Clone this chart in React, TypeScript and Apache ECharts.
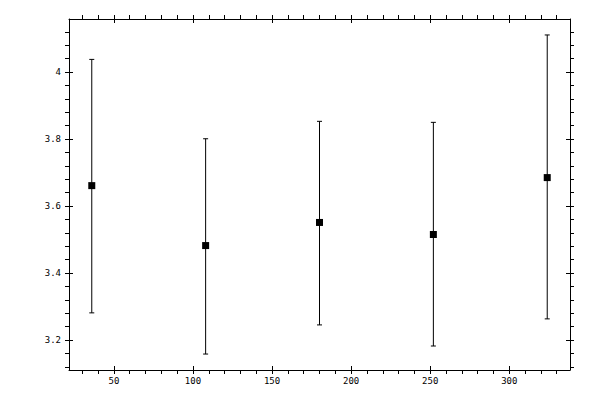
import React, { useEffect, useRef } from 'react';
import * as echarts from 'echarts';

// group positions and the mean with its error bar ends
const xValues = [36, 108, 180, 252, 324];
const means = [3.661, 3.482, 3.551, 3.515, 3.685];
const upper = [4.038, 3.801, 3.853, 3.85, 4.111];
const lower = [3.281, 3.158, 3.245, 3.182, 3.263];

// tick positions
const xMajor = [50, 100, 150, 200, 250, 300];
const xMinor = [30, 40, 60, 70, 80, 90, 110, 120, 130, 140, 160, 170, 180, 190, 210, 220, 230, 240, 260, 270, 280, 290, 310, 320, 330];
const yMajor = [3.2, 3.4, 3.6, 3.8, 4.0];
const yMinor = [3.12, 3.16, 3.24, 3.28, 3.32, 3.36, 3.44, 3.48, 3.52, 3.56, 3.64, 3.68, 3.72, 3.76, 3.84, 3.88, 3.92, 3.96, 4.04, 4.08, 4.12];

const FONT = 'DejaVu Sans Mono';

const App: React.FC = () => {
  const chartRef = useRef<HTMLDivElement>(null);

  useEffect(() => {
    if (!chartRef.current) return;
    const chart = echarts.init(chartRef.current, null, { renderer: 'svg' });

    // 5% padding around the data like the original plot
    const xPad = (xValues[xValues.length - 1] - xValues[0]) * 0.05;
    const xMin = xValues[0] - xPad;
    const xMax = xValues[xValues.length - 1] + xPad;
    const yLo = Math.min(...lower);
    const yHi = Math.max(...upper);
    const yPad = (yHi - yLo) * 0.05;
    const yMin = yLo - yPad;
    const yMax = yHi + yPad;

    const grid = { left: 69, right: 30, top: 19, bottom: 30 };
    const line = { lineStyle: { color: '#000', width: 1 } };

    const xAxisBase = (gridIndex: number, position: string, inside: boolean, labels: boolean) => ({
      type: 'value',
      gridIndex,
      position,
      min: xMin,
      max: xMax,
      axisLine: { show: !inside, ...line },
      splitLine: { show: false },
      axisTick: {
        show: true,
        inside,
        length: 4,
        customValues: inside ? xMajor : [...xMajor, ...xMinor],
        ...line
      },
      axisLabel: {
        show: labels,
        customValues: xMajor,
        margin: 6,
        color: '#000',
        fontFamily: FONT,
        fontSize: 9
      }
    });

    const yAxisBase = (gridIndex: number, position: string, inside: boolean, labels: boolean) => ({
      type: 'value',
      gridIndex,
      position,
      min: yMin,
      max: yMax,
      axisLine: { show: !inside, ...line },
      splitLine: { show: false },
      axisTick: {
        show: true,
        inside,
        length: 4,
        customValues: inside ? yMajor : [...yMajor, ...yMinor],
        ...line
      },
      axisLabel: {
        show: labels,
        customValues: yMajor,
        margin: 8,
        color: '#000',
        fontFamily: FONT,
        fontSize: 9,
        formatter: (v: number) => String(Math.round(v * 10) / 10)
      }
    });

    const option = {
      animation: false,
      backgroundColor: '#fff',
      grid: [grid, grid],
      xAxis: [
        xAxisBase(0, 'bottom', false, true),
        xAxisBase(0, 'top', false, false),
        xAxisBase(1, 'bottom', true, false),
        xAxisBase(1, 'top', true, false)
      ],
      yAxis: [
        yAxisBase(0, 'left', false, true),
        yAxisBase(0, 'right', false, false),
        yAxisBase(1, 'left', true, false),
        yAxisBase(1, 'right', true, false)
      ],
      series: [
        {
          type: 'custom',
          xAxisIndex: 0,
          yAxisIndex: 0,
          data: xValues.map((x, i) => [x, lower[i], upper[i]]),
          renderItem: (_params: unknown, api: any) => {
            const lo = api.coord([api.value(0), api.value(1)]);
            const hi = api.coord([api.value(0), api.value(2)]);
            const cap = 2.5;
            const style = { stroke: '#000', lineWidth: 1 };
            return {
              type: 'group',
              children: [
                { type: 'line', shape: { x1: lo[0], y1: lo[1], x2: hi[0], y2: hi[1] }, style },
                { type: 'line', shape: { x1: lo[0] - cap, y1: lo[1], x2: lo[0] + cap, y2: lo[1] }, style },
                { type: 'line', shape: { x1: hi[0] - cap, y1: hi[1], x2: hi[0] + cap, y2: hi[1] }, style }
              ]
            };
          }
        },
        {
          type: 'scatter',
          xAxisIndex: 0,
          yAxisIndex: 0,
          symbol: 'rect',
          symbolSize: 7,
          itemStyle: { color: '#000', opacity: 1 },
          z: 3,
          data: xValues.map((x, i) => [x, means[i]])
        }
      ]
    };

    // eslint-disable-next-line @typescript-eslint/no-explicit-any
    chart.setOption(option as any);

    return () => {
      chart.dispose();
    };
  }, []);

  return (
    <div
      ref={chartRef}
      style={{ position: 'absolute', left: 0, top: 0, width: '600px', height: '400px' }}
    />
  );
};

export default App;
